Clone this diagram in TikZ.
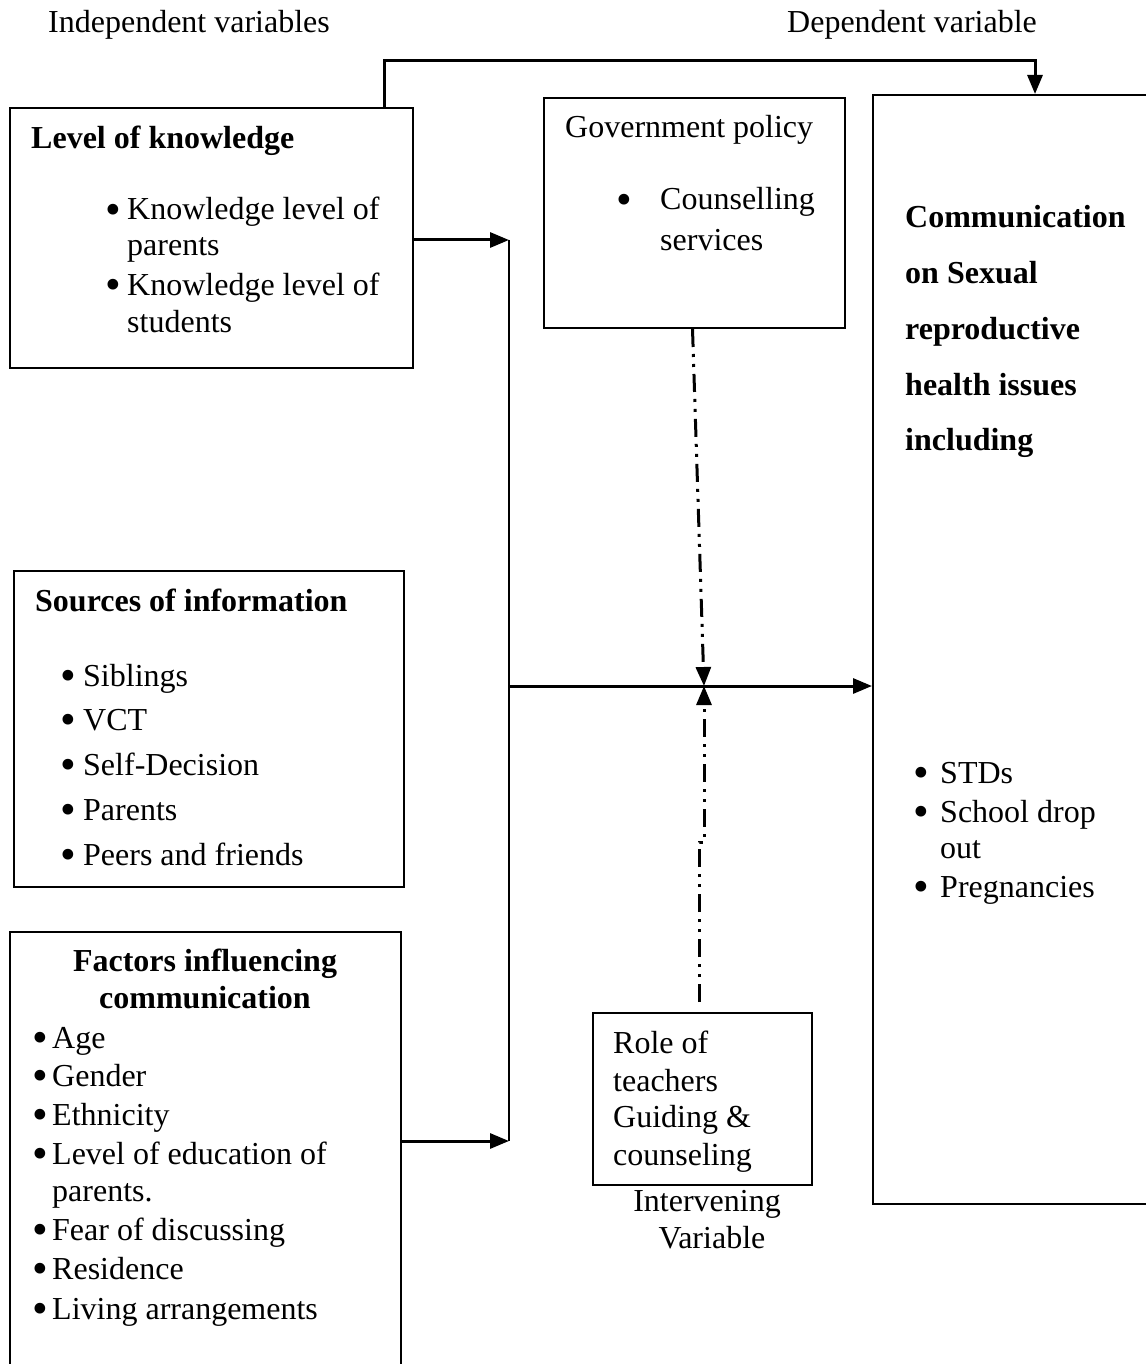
\documentclass[tikz,border=0pt]{standalone}
\usepackage{fontspec}
\setmainfont{Liberation Serif}
\usetikzlibrary{arrows.meta}
\newcommand\bul{\makebox[0pt]{\smash{\raisebox{-0.14em}{\scalebox{1.4}{\textbullet}}}}}
\begin{document}
\begin{tikzpicture}[x=1pt, y=-1pt,
    >={Triangle[length=19pt,width=15pt]},
    every node/.style={font=\fontsize{32}{38}\selectfont},
    box/.style={draw, line width=2pt, inner sep=0pt},
    lbl/.style={anchor=base west, inner sep=0pt},
    mid/.style={anchor=base, inner sep=0pt},
    flow/.style={line width=3pt},
    dashdot/.style={line width=3pt, dash pattern=on 18pt off 7pt on 3pt off 7pt on 3pt off 7pt}]
    \useasboundingbox (0,0) rectangle (1145,1364);
    % boxes
    \node[box, minimum width=403pt, minimum height=260pt] (know) at (211.5,238) {};
    \node[box, minimum width=301pt, minimum height=230pt] (gov) at (694.5,213) {};
    \node[box, minimum width=390pt, minimum height=316pt] (src) at (209,729) {};
    \node[box, minimum width=391pt, minimum height=470pt] (fac) at (205.5,1167) {};
    \node[box, minimum width=290pt, minimum height=1109pt] (dep) at (1018,649.5) {};
    \node[box, minimum width=219pt, minimum height=172pt] (role) at (702.5,1099) {};
    \coordinate (bustop) at (509,240);
    \coordinate (busbot) at (509,1141);
    \coordinate (cross) at (704,686);
    \coordinate (jog) at (704,842);
    % headings
    \node[lbl] (indep) at (48,33) {Independent variables};
    \node[lbl] (depv) at (787,33) {Dependent variable};
    % level of knowledge
    \node[lbl] (k-head) at (31,149) {\bfseries Level of knowledge};
    \node[lbl] (k-1) at (113,220) {\bul\hspace{14pt}Knowledge level of};
    \node[lbl] (k-1b) at (127,255) {parents};
    \node[lbl] (k-2) at (113,295) {\bul\hspace{14pt}Knowledge level of};
    \node[lbl] (k-2b) at (127,332) {students};
    % government policy
    \node[lbl] (g-head) at (565,138) {Government policy};
    \node[lbl] (g-1) at (624,210) {\bul\hspace{36pt}Counselling};
    \node[lbl] (g-1b) at (660,251) {services};
    % dependent variable
    \node[lbl] (d-1) at (905,228) {\bfseries Communication};
    \node[lbl] (d-2) at (905,283) {\bfseries on Sexual};
    \node[lbl] (d-3) at (905,339) {\bfseries reproductive};
    \node[lbl] (d-4) at (905,395) {\bfseries health issues};
    \node[lbl] (d-5) at (905,450) {\bfseries including};
    \node[lbl] (d-i1) at (921,783) {\bul\hspace{19pt}STDs};
    \node[lbl] (d-i2) at (921,822) {\bul\hspace{19pt}School drop};
    \node[lbl] (d-i2b) at (940,858) {out};
    \node[lbl] (d-i3) at (921,897) {\bul\hspace{19pt}Pregnancies};
    % sources of information
    \node[lbl] (s-head) at (35,611) {\bfseries Sources of information};
    \node[lbl] (s-1) at (68,686) {\bul\hspace{15pt}Siblings};
    \node[lbl] (s-2) at (68,730) {\bul\hspace{15pt}VCT};
    \node[lbl] (s-3) at (68,775) {\bul\hspace{15pt}Self-Decision};
    \node[lbl] (s-4) at (68,820) {\bul\hspace{15pt}Parents};
    \node[lbl] (s-5) at (68,865) {\bul\hspace{15pt}Peers and friends};
    % factors influencing communication
    \node[mid] (f-head) at (205,971) {\bfseries Factors influencing};
    \node[mid] (f-headb) at (205,1008) {\bfseries communication};
    \node[lbl] (f-1) at (40,1048) {\bul\hspace{12pt}Age};
    \node[lbl] (f-2) at (40,1086) {\bul\hspace{12pt}Gender};
    \node[lbl] (f-3) at (40,1125) {\bul\hspace{12pt}Ethnicity};
    \node[lbl] (f-4) at (40,1164) {\bul\hspace{12pt}Level of education of};
    \node[lbl] (f-4b) at (52,1201) {parents.};
    \node[lbl] (f-5) at (40,1240) {\bul\hspace{12pt}Fear of discussing};
    \node[lbl] (f-6) at (40,1279) {\bul\hspace{12pt}Residence};
    \node[lbl] (f-7) at (40,1319) {\bul\hspace{12pt}Living arrangements};
    % intervening variable
    \node[lbl] (r-1) at (613,1053) {Role of};
    \node[lbl] (r-2) at (613,1091) {teachers};
    \node[lbl] (r-3) at (613,1127) {Guiding \&};
    \node[lbl] (r-4) at (613,1165) {counseling};
    \node[mid] (iv-1) at (707,1211) {Intervening};
    \node[mid] (iv-2) at (712,1248) {Variable};
    % connectors
    \draw[flow,->] (know.north east) ++(-30,0) -- ++(0,-46) -| ([xshift=17pt]dep.north);
    \draw[line width=1.2pt] (bustop) -- (busbot);
    \draw[flow,->] (know.east |- bustop) -- (bustop);
    \draw[flow,->] (fac.east |- busbot) -- (busbot);
    \draw[flow,->] (bustop |- cross) -- (cross -| dep.west);
    \draw[dashdot,->] ([xshift=-2pt]gov.south) -- (cross);
    \draw[dashdot,->,shorten <=10pt] ([xshift=-3pt]role.north) |- (jog) -- (cross);
\end{tikzpicture}
\end{document}
